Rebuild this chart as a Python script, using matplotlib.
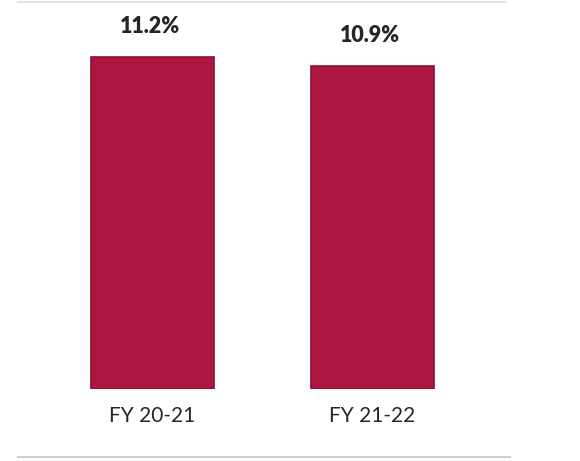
import matplotlib.pyplot as plt
from matplotlib.lines import Line2D

categories = ['FY 20-21', 'FY 21-22']
values = [11.2, 10.9]
value_labels = ['11.2%', '10.9%']

plt.rcParams['font.family'] = ['Lato', 'DejaVu Sans']

fig = plt.figure(figsize=(5.8, 4.61), dpi=100)
ax = fig.add_axes([18 / 580, 1 - 389 / 461, 492 / 580, 387 / 461])

x = range(len(categories))
bars = ax.bar(x, values, width=0.555, color='#AE1642', edgecolor='#8C1034', linewidth=1.2)

for bar, lab in zip(bars, value_labels):
    ax.annotate(lab, (bar.get_x() + bar.get_width() / 2, bar.get_height()),
                xytext=(-2, 22), textcoords='offset points',
                ha='center', va='center', fontsize=15.5, fontweight='heavy', color='#262626')

ax.set_xlim(-0.611, 1.625)
ax.set_ylim(0, 13.07)
ax.set_xticks(list(x))
ax.set_xticklabels(categories, fontsize=15, color='#262626')
ax.tick_params(axis='x', length=0, pad=12)
ax.set_yticks([])
for s in ax.spines.values():
    s.set_visible(False)

# frame lines of the original slide
fig.add_artist(Line2D([18 / 580, 510 / 580], [1 - 457 / 461] * 2, color='#cfcfcf', lw=1.5))
fig.add_artist(Line2D([18 / 580, 505 / 580], [1 - 2 / 461] * 2, color='#dde6e2', lw=1.5))

fig.savefig('out.png', dpi=100)
